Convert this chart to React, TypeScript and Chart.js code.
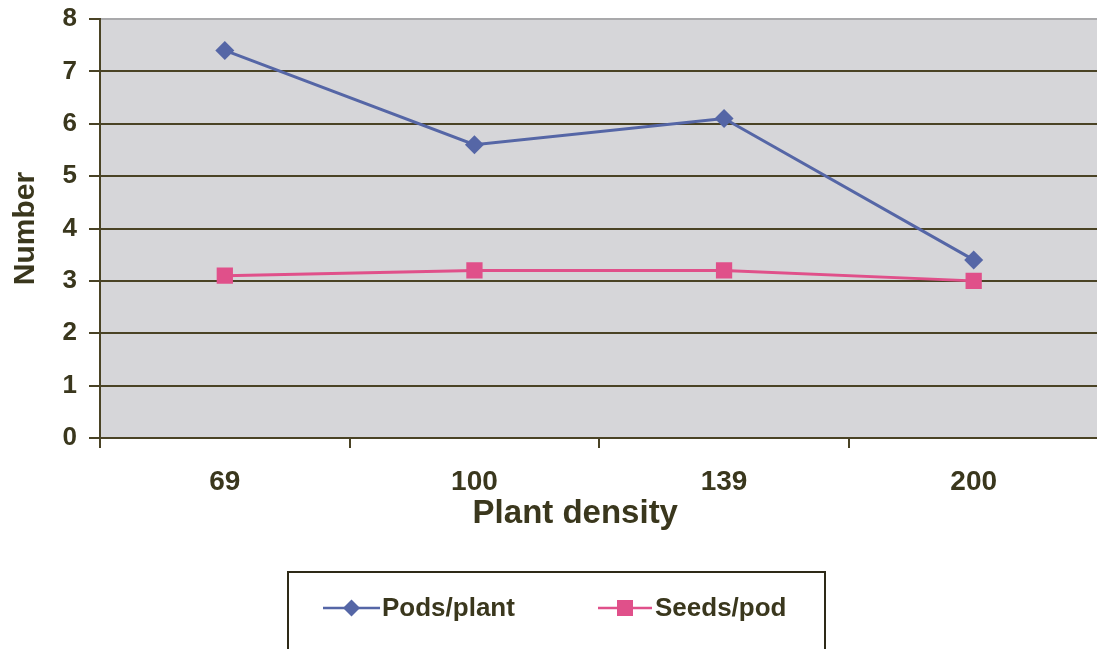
import React, { useEffect, useRef } from "react";
import { Chart, registerables } from "chart.js";

Chart.register(...registerables);

const categories = ["69", "100", "139", "200"];
const podsPerPlant = [7.4, 5.6, 6.1, 3.4];
const seedsPerPod = [3.1, 3.2, 3.2, 3.0];
const seriesNames = ["Pods/plant", "Seeds/pod"];
const xTitle = "Plant density";
const yTitle = "Number";

const FONT = '"Liberation Sans", Arial, Helvetica, sans-serif';
const TEXT = "#3a371d";
const GRID = "#4a4325";
const BLUE = "#5566a6";
const PINK = "#e0508a";
const PLOT_BG = "#d6d6d9";

const plotBg = {
  id: "plotBg",
  beforeDraw(chart: any) {
    const { ctx, chartArea } = chart;
    ctx.save();
    ctx.fillStyle = PLOT_BG;
    ctx.fillRect(chartArea.left, chartArea.top, chartArea.right - chartArea.left, chartArea.bottom - chartArea.top);
    ctx.restore();
  },
};

const xAxisTitle = {
  id: "xAxisTitle",
  afterDraw(chart: any) {
    const ctx = chart.ctx;
    const xs = chart.scales.x;
    ctx.save();
    ctx.fillStyle = TEXT;
    ctx.font = `bold 33px ${FONT}`;
    ctx.textAlign = "center";
    ctx.textBaseline = "middle";
    ctx.fillText(xTitle, xs.left + (xs.right - xs.left) * 0.476, 514);
    ctx.restore();
  },
};

const boxLegend = {
  id: "boxLegend",
  afterDraw(chart: any) {
    const ctx = chart.ctx;
    ctx.save();
    ctx.strokeStyle = "#2e2a18";
    ctx.lineWidth = 2;
    ctx.strokeRect(288, 572, 537, 100);
    const items = [
      { x0: 323, x1: 380, tx: 382 },
      { x0: 598, x1: 652, tx: 655 },
    ];
    const cy = 608;
    chart.data.datasets.forEach((ds: any, i: number) => {
      const it = items[i];
      ctx.strokeStyle = ds.borderColor;
      ctx.lineWidth = 2.5;
      ctx.beginPath();
      ctx.moveTo(it.x0, cy);
      ctx.lineTo(it.x1, cy);
      ctx.stroke();
      const mx = (it.x0 + it.x1) / 2;
      ctx.fillStyle = ds.backgroundColor;
      ctx.beginPath();
      if (ds.pointStyle === "rectRot") {
        const r = 8.5;
        ctx.moveTo(mx - r, cy);
        ctx.lineTo(mx, cy - r);
        ctx.lineTo(mx + r, cy);
        ctx.lineTo(mx, cy + r);
        ctx.closePath();
      } else {
        const s = 8;
        ctx.rect(mx - s, cy - s, 2 * s, 2 * s);
      }
      ctx.fill();
      ctx.fillStyle = TEXT;
      ctx.font = `bold 26px ${FONT}`;
      ctx.textBaseline = "middle";
      ctx.textAlign = "left";
      ctx.fillText(ds.label, it.tx, cy + 1);
    });
    ctx.restore();
  },
};

export default function App() {
  const ref = useRef<HTMLCanvasElement | null>(null);

  useEffect(() => {
    if (!ref.current) return;
    const chart = new Chart(ref.current, {
      type: "line",
      data: {
        labels: categories,
        datasets: [
          {
            label: seriesNames[0],
            data: podsPerPlant,
            borderColor: BLUE,
            backgroundColor: BLUE,
            borderWidth: 3,
            pointStyle: "rectRot",
            pointRadius: 9.5,
            pointBorderWidth: 0,
            tension: 0,
          },
          {
            label: seriesNames[1],
            data: seedsPerPod,
            borderColor: PINK,
            backgroundColor: PINK,
            borderWidth: 3,
            pointStyle: "rect",
            pointRadius: 11.5,
            pointBorderWidth: 0,
            tension: 0,
          },
        ],
      },
      options: {
        animation: false,
        responsive: false,
        maintainAspectRatio: false,
        events: [],
        layout: { padding: { left: 0, right: 0, top: 19, bottom: 104 } },
        plugins: {
          legend: { display: false },
          tooltip: { enabled: false },
        },
        scales: {
          x: {
            offset: true,
            grid: {
              offset: true,
              drawOnChartArea: false,
              drawTicks: true,
              tickLength: 10,
              tickColor: GRID,
              lineWidth: 2,
            },
            border: { color: GRID, width: 2 },
            ticks: {
              color: TEXT,
              font: { family: FONT, size: 28, weight: "bold" },
              padding: 17,
            },
            title: { display: false, text: xTitle },
            afterFit(scale: any) {
              scale.height = 107;
            },
          },
          y: {
            min: 0,
            max: 8,
            ticks: {
              stepSize: 1,
              color: TEXT,
              font: { family: FONT, size: 26, weight: "bold", lineHeight: 0.5 },
              padding: 12,
            },
            grid: {
              color: (c: any) => (c.tick && c.tick.value === 8 ? "#a9a9ab" : GRID),
              tickColor: GRID,
              lineWidth: 2,
              tickLength: 11,
            },
            border: { color: GRID, width: 2 },
            title: {
              display: true,
              text: yTitle,
              color: TEXT,
              font: { family: FONT, size: 30, weight: "bold" },
              padding: { top: 8, bottom: 0 },
            },
            afterFit(scale: any) {
              scale.width = 100;
            },
          },
        },
      },
      plugins: [plotBg, xAxisTitle, boxLegend],
    });
    return () => chart.destroy();
  }, []);

  return (
    <div
      style={{
        position: "fixed",
        left: 0,
        top: 0,
        width: 1097,
        height: 649,
        overflow: "hidden",
        background: "#fff",
      }}
    >
      <canvas ref={ref} width={1110} height={649} style={{ width: 1110, height: 649, display: "block" }} />
    </div>
  );
}
